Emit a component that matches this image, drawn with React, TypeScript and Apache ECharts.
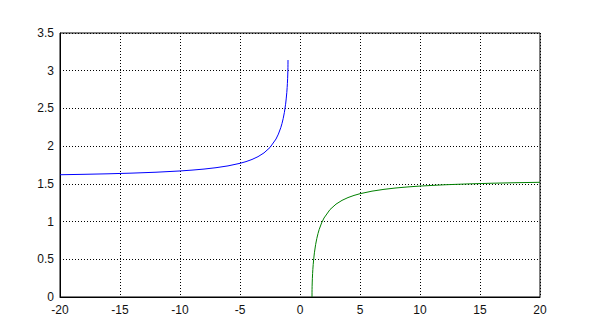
import React, { useEffect, useRef } from "react";
import * as echarts from "echarts";

// Left branch (x <= -1)
const leftX = [-20, -18, -16, -14, -12, -10, -9, -8, -7, -6, -5, -4.5, -4, -3.5, -3, -2.5, -2, -1.8, -1.6, -1.5, -1.4, -1.3, -1.2, -1.15, -1.1, -1.07, -1.05, -1.03, -1.02, -1.01, -1.005, -1.002, -1];
const leftY = [1.6208, 1.6264, 1.6333, 1.6423, 1.6542, 1.671, 1.6821, 1.6961, 1.7142, 1.7383, 1.7722, 1.7949, 1.8235, 1.8605, 1.9106, 1.9823, 2.0944, 2.1598, 2.2459, 2.3005, 2.3664, 2.4481, 2.5559, 2.6258, 2.712, 2.7776, 2.8318, 2.8992, 2.9432, 3.0007, 3.0418, 3.0784, 3.1416];

// Right branch (x >= 1)
const rightX = [1, 1.002, 1.005, 1.01, 1.02, 1.03, 1.05, 1.07, 1.1, 1.15, 1.2, 1.3, 1.4, 1.5, 1.6, 1.8, 2, 2.5, 3, 3.5, 4, 4.5, 5, 6, 7, 8, 9, 10, 12, 14, 16, 18, 20];
const rightY = [0, 0.0632, 0.0998, 0.1409, 0.1984, 0.2424, 0.3098, 0.364, 0.4296, 0.5158, 0.5857, 0.6935, 0.7752, 0.8411, 0.8957, 0.9818, 1.0472, 1.1593, 1.231, 1.2811, 1.3181, 1.3467, 1.3694, 1.4033, 1.4274, 1.4455, 1.4595, 1.4706, 1.4874, 1.4993, 1.5083, 1.5152, 1.5208];

const xTicks = { min: -20, max: 20, interval: 5 };
const yTicks = { min: 0, max: 3.5, interval: 0.5 };

export default function App() {
  const ref = useRef<HTMLDivElement>(null);
  useEffect(() => {
    if (!ref.current) return;
    const chart = echarts.init(ref.current, null, { renderer: "svg" });
    const labelStyle = { color: "#111", fontSize: 12, fontFamily: "Liberation Sans, Arial, sans-serif" };
    const split = { show: true, lineStyle: { color: "#000", width: 1, type: [1, 2] as any } };
    chart.setOption({
      animation: false,
      backgroundColor: "#fff",
      grid: { left: 60, right: 60, top: 33, bottom: 34, show: true, borderColor: "#000", borderWidth: 1, backgroundColor: "transparent" },
      xAxis: {
        type: "value",
        ...xTicks,
        axisLine: { show: true, onZero: false, lineStyle: { color: "#000", width: 1 } },
        axisTick: { show: false },
        axisLabel: { ...labelStyle, margin: 7 },
        splitLine: split,
      },
      yAxis: {
        type: "value",
        ...yTicks,
        axisLine: { show: true, onZero: false, lineStyle: { color: "#000", width: 1 } },
        axisTick: { show: false },
        axisLabel: { ...labelStyle, margin: 6 },
        splitLine: split,
      },
      series: [
        {
          type: "line",
          data: leftX.map((x, i) => [x, leftY[i]]),
          showSymbol: false,
          lineStyle: { color: "#0000ff", width: 1 },
          itemStyle: { color: "#0000ff" },
        },
        {
          type: "line",
          data: rightX.map((x, i) => [x, rightY[i]]),
          showSymbol: false,
          lineStyle: { color: "#008000", width: 1 },
          itemStyle: { color: "#008000" },
        },
      ],
    });
    return () => chart.dispose();
  }, []);
  return <div ref={ref} style={{ width: 600, height: 331, position: "absolute", left: 0, top: 0 }} />;
}
